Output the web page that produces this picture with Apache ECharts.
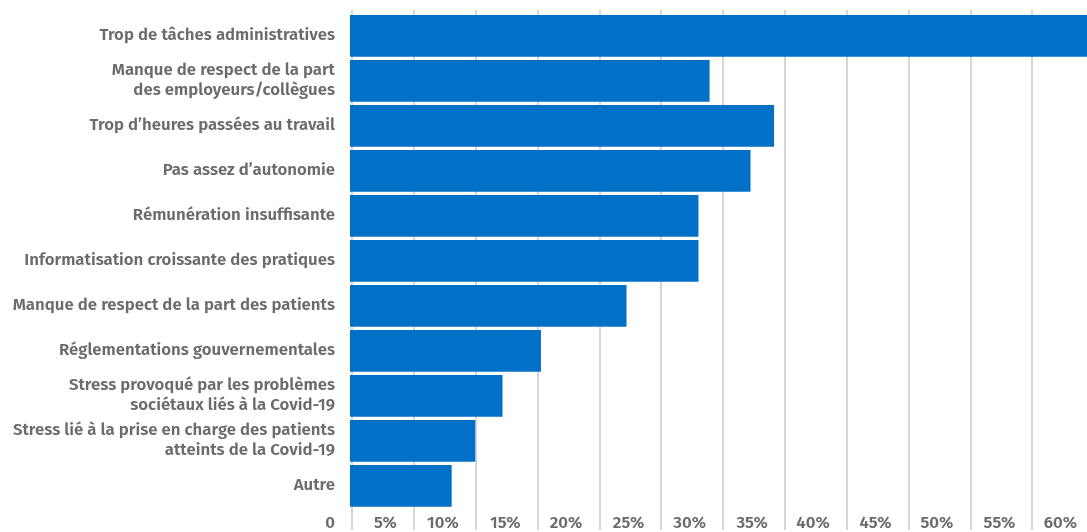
<!DOCTYPE html>
<html>
<head>
<meta charset="utf-8">
<script src="https://cdn.jsdelivr.net/npm/echarts@6/dist/echarts.min.js"></script>
<style>
html,body{margin:0;padding:0;background:#fff;overflow:hidden;width:1087px;height:532px;}
#chart{width:1094px;height:532px;}
</style>
</head>
<body>
<div id="chart"></div>
<script>
const categories = [
  "Trop de tâches administratives",
  "Manque de respect de la part\ndes employeurs/collègues",
  "Trop d’heures passées au travail",
  "Pas assez d’autonomie",
  "Rémunération insuffisante",
  "Informatisation croissante des pratiques",
  "Manque de respect de la part des patients",
  "Réglementations gouvernementales",
  "Stress provoqué par les problèmes\nsociétaux liés à la Covid-19",
  "Stress lié à la prise en charge des patients\natteints de la Covid-19",
  "Autre"
];
const values = [63, 29.0, 34.2, 32.3, 28.1, 28.1, 22.3, 15.4, 12.3, 10.1, 8.2];
const tickValues = [0, 5, 10, 15, 20, 25, 30, 35, 40, 45, 50, 55, 60];

const FONT = "'Fira Sans', 'Open Sans', 'Noto Sans', sans-serif";
const chart = echarts.init(document.getElementById('chart'));
chart.setOption({
  animation: false,
  grid: [
    {left: 350, right: 0, top: 13.3, bottom: 23.7},
    {left: 352, right: 0, top: 10, bottom: 0}
  ],
  xAxis: [
    {gridIndex: 0, type: 'value', min: 0, max: 60, show: false},
    {
      gridIndex: 1, type: 'value', min: tickValues[0], max: tickValues[tickValues.length - 1], interval: 5,
      axisLine: {show: false}, axisTick: {show: false},
      splitLine: {show: true, lineStyle: {color: '#c8c8c8', width: 1.5}},
      axisLabel: {
        inside: true, align: 'right', padding: [0, 17, 0, 0], margin: -2,
        color: '#6b6b6b', fontSize: 16.8, fontWeight: 600, fontFamily: FONT,
        formatter: v => v === 0 ? '0' : v + '%'
      }
    }
  ],
  yAxis: [
    {
      gridIndex: 0, type: 'category', data: categories, inverse: true,
      axisLine: {show: false}, axisTick: {show: false},
      axisLabel: {color: '#6b6b6b', fontSize: 16.8, fontWeight: 600, fontFamily: FONT, margin: 15, lineHeight: 20}
    },
    {gridIndex: 1, type: 'value', show: false, splitLine: {show: false}}
  ],
  series: [{
    type: 'bar', xAxisIndex: 0, yAxisIndex: 0, data: values,
    barCategoryGap: '7.4%', itemStyle: {color: '#0071c7'}, clip: true, z: 3
  }]
});
</script>
</body>
</html>
